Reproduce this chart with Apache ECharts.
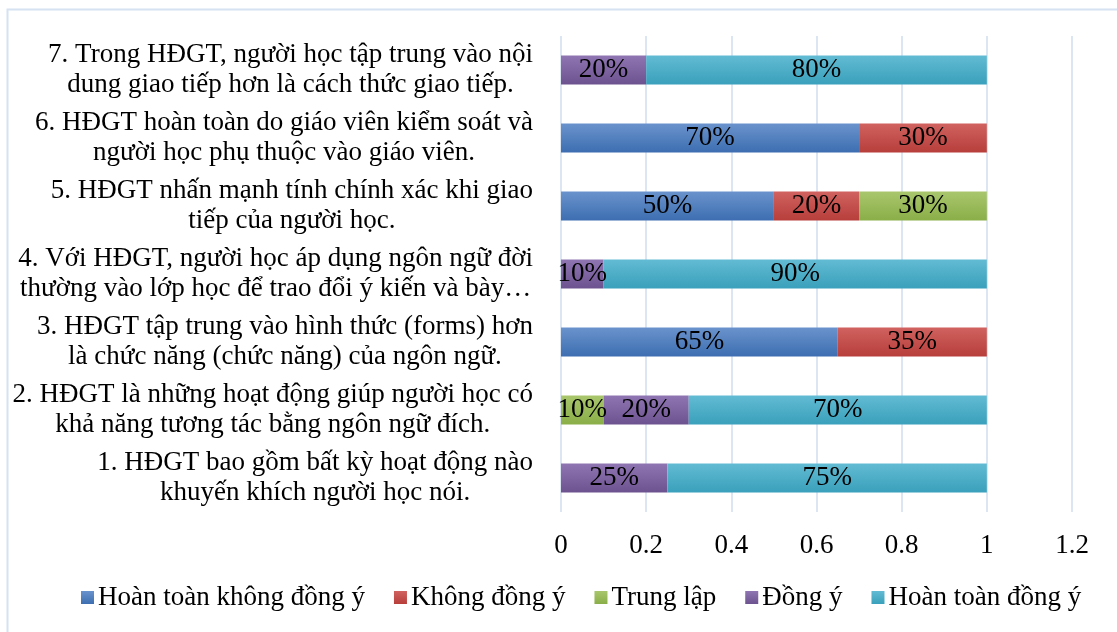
<!DOCTYPE html>
<html>
<head>
<meta charset="utf-8">
<script src="https://cdn.jsdelivr.net/npm/echarts@6/dist/echarts.min.js"></script>
<style>
html,body{margin:0;padding:0;background:#fff;}
#chart{width:1117px;height:632px;}
</style>
</head>
<body>
<div id="chart"></div>
<script>
const categories = [
  "1. HĐGT bao gồm bất kỳ hoạt động nào\nkhuyến khích người học nói.",
  "2. HĐGT là những hoạt động giúp người học có\nkhả năng tương tác bằng ngôn ngữ đích.",
  "3. HĐGT tập trung vào hình thức (forms) hơn\nlà chức năng (chức năng) của ngôn ngữ.",
  "4. Với HĐGT, người học áp dụng ngôn ngữ đời\nthường vào lớp học để trao đổi ý kiến và bày…",
  "5. HĐGT nhấn mạnh tính chính xác khi giao\ntiếp của người học.",
  "6. HĐGT hoàn toàn do giáo viên kiểm soát và\nngười học phụ thuộc vào giáo viên.",
  "7. Trong HĐGT, người học tập trung vào nội\ndung giao tiếp hơn là cách thức giao tiếp."
];
const seriesNames = ["Hoàn toàn không đồng ý", "Không đồng ý", "Trung lập", "Đồng ý", "Hoàn toàn đồng ý"];
const hoanToanKhongDongY = [0, 0, 0.65, 0, 0.50, 0.70, 0];
const khongDongY        = [0, 0, 0.35, 0, 0.20, 0.30, 0];
const trungLap          = [0, 0.10, 0, 0, 0.30, 0, 0];
const dongY             = [0.25, 0.20, 0, 0.10, 0, 0, 0.20];
const hoanToanDongY     = [0.75, 0.70, 0, 0.90, 0, 0, 0.80];
const xTicks = { min: 0, max: 1.2, interval: 0.2 };

const seriesData = [hoanToanKhongDongY, khongDongY, trungLap, dongY, hoanToanDongY];
const gradients = [
  ['#6A93CC', '#3D6EB1'],
  ['#D0625F', '#B73E3B'],
  ['#A9C66C', '#8AAE48'],
  ['#8F76B2', '#6D5290'],
  ['#62BBD3', '#3AA0BB']
];
const FONT = '"Liberation Serif", "Times New Roman", serif';
const FS = 27;

const chart = echarts.init(document.getElementById('chart'));
chart.setOption({
  backgroundColor: '#fff',
  animation: false,
  textStyle: { fontFamily: FONT },
  graphic: [{
    type: 'rect', left: 5, top: 7, silent: true,
    shape: { x: 0, y: 0, width: 1300, height: 800 },
    style: { fill: 'none', stroke: '#D6E2F1', lineWidth: 2 }
  }],
  grid: { left: 561, right: 45, top: 36, bottom: 120, containLabel: false },
  legend: {
    left: 76, top: 579,
    itemWidth: 13, itemHeight: 13, itemGap: 29,
    icon: 'rect',
    textStyle: { fontFamily: FONT, fontSize: FS, color: '#000', padding: [0, 0, 0, -1] },
    data: seriesNames
  },
  xAxis: {
    type: 'value', min: xTicks.min, max: xTicks.max, interval: xTicks.interval,
    axisLine: { show: false }, axisTick: { show: false },
    splitLine: { lineStyle: { color: '#DCE6F3', width: 2 } },
    axisLabel: { fontFamily: FONT, fontSize: FS, color: '#000', margin: 20,
      formatter: v => String(Math.round(v * 10) / 10) }
  },
  yAxis: {
    type: 'category', data: categories,
    axisLine: { show: false }, axisTick: { show: false },
    axisLabel: {
      align: 'right', margin: 28,
      formatter: v => v.split('\n').map(l => '{c|' + l + '}').join('\n'),
      rich: { c: { align: 'center', fontFamily: FONT, fontSize: FS, lineHeight: 30, color: '#000' } }
    }
  },
  series: seriesNames.map((name, i) => ({
    name, type: 'bar', stack: 'total', barWidth: 29,
    data: seriesData[i],
    itemStyle: {
      color: { type: 'linear', x: 0, y: 0, x2: 0, y2: 1,
        colorStops: [{ offset: 0, color: gradients[i][0] }, { offset: 1, color: gradients[i][1] }] }
    },
    label: {
      show: true, position: 'inside', color: '#000', fontFamily: FONT, fontSize: FS,
      formatter: p => p.value > 0 ? Math.round(p.value * 100) + '%' : ''
    }
  }))
});
</script>
</body>
</html>
